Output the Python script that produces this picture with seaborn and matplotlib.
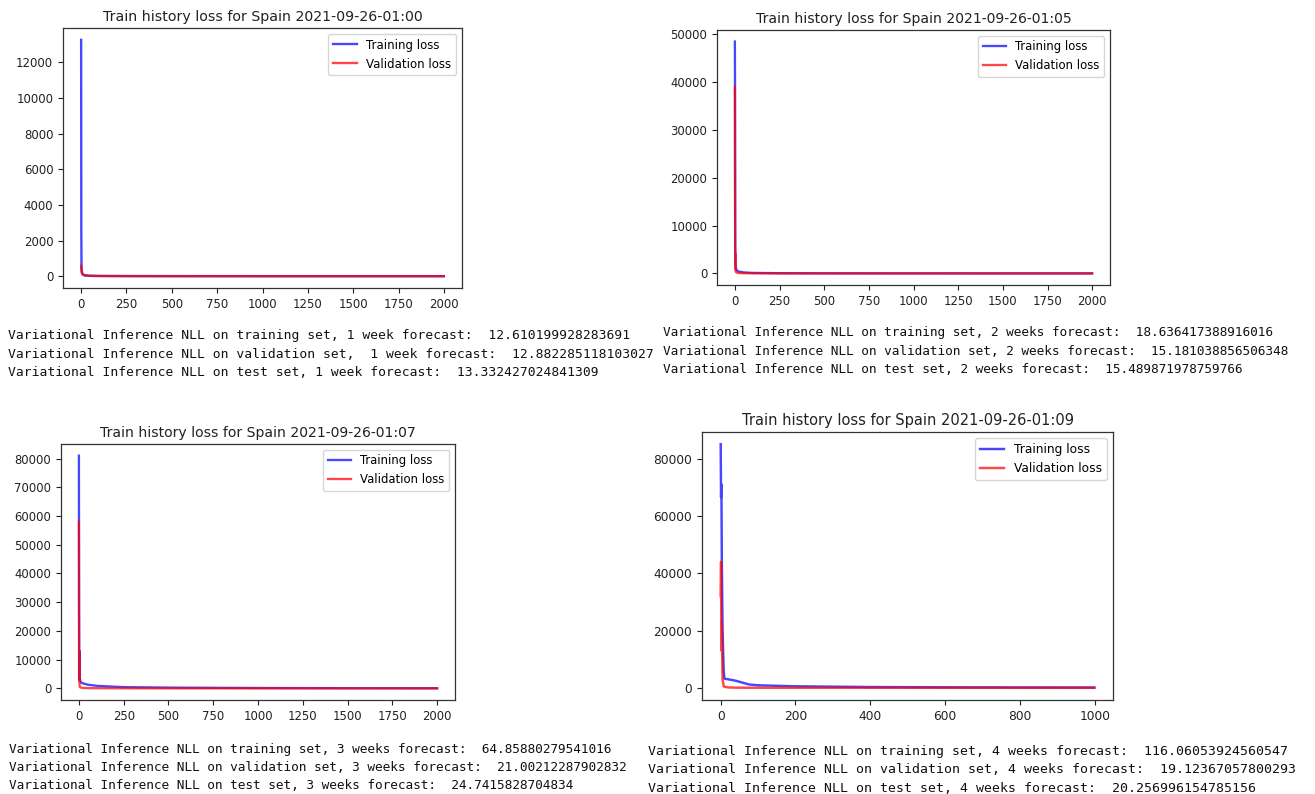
import matplotlib
matplotlib.use("Agg")
import matplotlib.pyplot as plt
import seaborn as sns
import pandas as pd

# Loss history per run (epoch checkpoints and loss values)
run_names = ["2021-09-26-01:00", "2021-09-26-01:05", "2021-09-26-01:07", "2021-09-26-01:09"]

epochs_a = [0, 1, 2, 3, 5, 10, 20, 50, 100, 250, 500, 1000, 1500, 1999]
train_a = [13250, 2600, 600, 380, 200, 110, 60, 35, 25, 18, 15, 13, 12.8, 12.6]
val_a = [600, 420, 300, 230, 160, 90, 50, 30, 22, 17, 15, 13.5, 13, 12.9]

epochs_b = [0, 1, 2, 3, 4, 5, 10, 20, 50, 100, 250, 500, 1000, 1500, 1999]
train_b = [48500, 39000, 6000, 2500, 1600, 1200, 700, 420, 220, 120, 60, 35, 25, 20, 18.6]
val_b = [39000, 15000, 1000, 4200, 600, 350, 180, 100, 60, 40, 25, 20, 17, 16, 15.2]

epochs_c = [0, 1, 2, 3, 4, 5, 10, 20, 50, 100, 250, 500, 1000, 1500, 1999]
train_c = [81000, 27000, 6000, 3000, 13000, 3500, 2200, 1800, 1300, 900, 450, 280, 150, 90, 64.9]
val_c = [58000, 3000, 2500, 12000, 800, 500, 300, 180, 110, 80, 50, 35, 25, 22, 21.0]

epochs_d = [0, 1, 2, 3, 5, 8, 10, 20, 40, 75, 100, 200, 400, 600, 800, 999]
train_d = [85000, 66500, 71000, 45000, 20000, 6000, 3200, 3000, 2500, 1200, 900, 550, 300, 200, 150, 116]
val_d = [32000, 44000, 13000, 23000, 3000, 600, 400, 150, 80, 50, 40, 30, 24, 21, 20, 19.1]

histories = [
    (epochs_a, train_a, val_a),
    (epochs_b, train_b, val_b),
    (epochs_c, train_c, val_c),
    (epochs_d, train_d, val_d),
]

horizons = ["1 week", "2 weeks", "3 weeks", "4 weeks"]
nll_train = ["12.610199928283691", "18.636417388916016", "64.85880279541016", "116.06053924560547"]
nll_val = ["12.882285118103027", "15.181038856506348", "21.00212287902832", "19.12367057800293"]
nll_test = ["13.332427024841309", "15.489871978759766", "24.7415828704834", "20.256996154785156"]
val_sep = [",  ", ", ", ", ", ", "]

W, H = 1315, 794
fig = plt.figure(figsize=(W / 100, H / 100), dpi=100)

# axes boxes in pixels: left, top, right, bottom
boxes = [
    (63, 28, 462, 288),
    (717, 30, 1110, 285),
    (61, 444, 455, 700),
    (702, 432, 1113, 700),
]
# each notebook cell was captured at a slightly different zoom
scales = [1.0, 0.985, 0.985, 1.035]
# console text anchors: x, first-line y
text_pos = [(8, 336), (663, 333), (9, 749), (648, 751)]
line_step = [18.3, 18.2, 18.2, 18.6]

for i, ((ep, tr, va), box) in enumerate(zip(histories, boxes)):
    l, t, r, b = box
    s_ = scales[i]
    ax = fig.add_axes([l / W, 1 - b / H, (r - l) / W, (b - t) / H])
    df = pd.DataFrame({"epoch": ep, "train": tr, "val": va})
    sns.lineplot(data=df, x="epoch", y="train", color="b", alpha=0.72,
                 label="Training loss", ax=ax, lw=1.7 * s_)
    sns.lineplot(data=df, x="epoch", y="val", color="r", alpha=0.72,
                 label="Validation loss", ax=ax, lw=1.7 * s_)
    ax.set_xlabel("")
    ax.set_ylabel("")
    ax.set_title(f"Train history loss for Spain {run_names[i]}", fontsize=10.2 * s_,
                 color="#222222", pad=5 * s_)
    ax.tick_params(labelsize=8.5 * s_, colors="#222222", length=3.5 * s_)
    for sp in ax.spines.values():
        sp.set_color("#333333")
        sp.set_linewidth(0.9)
    ax.legend(loc="upper right", fontsize=8.5 * s_, handlelength=2.0, framealpha=0.8)

    x0, y0 = text_pos[i]
    lines = [
        f"Variational Inference NLL on training set, {horizons[i]} forecast:  {nll_train[i]}",
        f"Variational Inference NLL on validation set{val_sep[i]}{horizons[i]} forecast:  {nll_val[i]}",
        f"Variational Inference NLL on test set, {horizons[i]} forecast:  {nll_test[i]}",
    ]
    mono_size = [9.38, 9.22, 9.19, 9.57][i]
    for k, line in enumerate(lines):
        fig.text(x0 / W, 1 - (y0 + k * line_step[i]) / H, line, fontsize=mono_size,
                 family="DejaVu Sans Mono", va="center", ha="left", color="#111111")

fig.savefig("out.png", dpi=100)
